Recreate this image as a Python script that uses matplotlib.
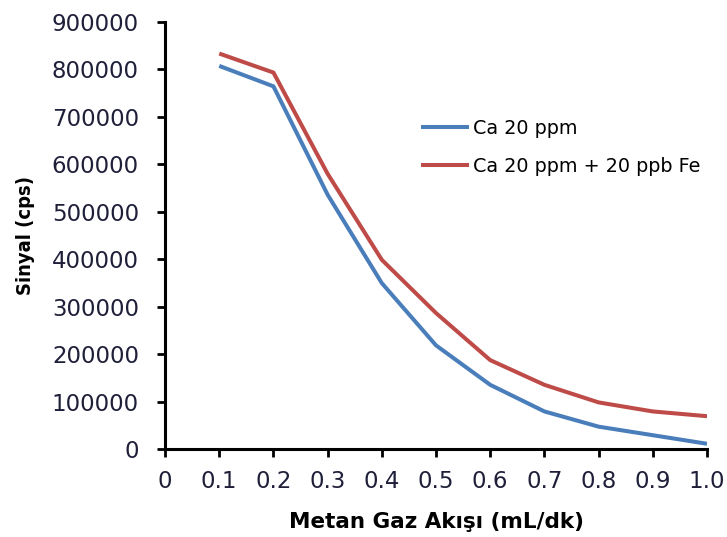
import matplotlib
matplotlib.use("Agg")
import matplotlib.pyplot as plt
from matplotlib.ticker import FixedLocator, FuncFormatter

flow = [0.1, 0.2, 0.3, 0.4, 0.5, 0.6, 0.7, 0.8, 0.9, 1.0]
ca_20ppm = [807000, 764000, 536000, 350000, 219000, 136000, 80000, 48000, 30000, 12000]
ca_20ppm_fe = [833000, 793000, 580000, 399000, 287000, 188000, 136000, 99000, 80000, 70000]
labels = ["Ca 20 ppm", "Ca 20 ppm + 20 ppb Fe"]
x_ticks = [0, 0.1, 0.2, 0.3, 0.4, 0.5, 0.6, 0.7, 0.8, 0.9, 1.0]
y_ticks = [0, 100000, 200000, 300000, 400000, 500000, 600000, 700000, 800000, 900000]

plt.rcParams['font.family'] = ['DejaVu Sans']

fig = plt.figure(figsize=(7.27, 5.37), dpi=100)
ax = fig.add_axes([0.227, 0.163, 0.7455, 0.7966])

ax.plot(flow, ca_20ppm, color='#4A7EBB', lw=2.9, label=labels[0], solid_capstyle='butt')
ax.plot(flow, ca_20ppm_fe, color='#BE4B48', lw=2.9, label=labels[1], solid_capstyle='butt')

ax.set_xlim(0, 1.0)
ax.set_ylim(0, 900000)
ax.xaxis.set_major_locator(FixedLocator(x_ticks))
ax.yaxis.set_major_locator(FixedLocator(y_ticks))
ax.xaxis.set_major_formatter(FuncFormatter(lambda v, p: "0" if abs(v) < 1e-9 else f"{v:.1f}"))
ax.yaxis.set_major_formatter(FuncFormatter(lambda v, p: f"{int(round(v))}"))

for s in ['top', 'right']:
    ax.spines[s].set_visible(False)
for s in ['left', 'bottom']:
    ax.spines[s].set_linewidth(2.2)
    ax.spines[s].set_color('black')

ax.tick_params(axis='both', direction='out', length=5.8, width=2, labelsize=16.5,
               labelcolor='#1f1f3a', color='black')
ax.tick_params(axis='x', pad=9)
ax.tick_params(axis='y', pad=13)

ax.set_xlabel("Metan Gaz Akışı (mL/dk)", fontsize=15.5, fontweight='bold', labelpad=14)
ax.set_ylabel("Sinyal (cps)", fontsize=14.5, fontweight='bold', fontstretch='condensed',
              labelpad=12)

leg = fig.legend(loc='center left', bbox_to_anchor=(0.579, 0.726), frameon=False,
                 fontsize=13.8, handlelength=2.5, handletextpad=0.2, labelspacing=1.0,
                 borderpad=0, borderaxespad=0)

fig.savefig("out.png", dpi=100)
